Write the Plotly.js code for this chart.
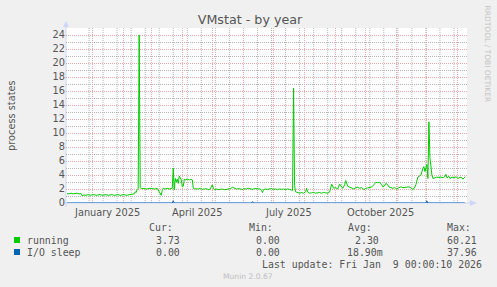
<!DOCTYPE html>
<html><head><meta charset="utf-8">
<script src="https://cdn.plot.ly/plotly-3.0.1.min.js"></script>
<style>html,body{margin:0;padding:0;background:#F0F0F0;}#chart{width:497px;height:287px;}</style>
</head><body><div id="chart"></div>
<script>
// ---- data ----
const dates = [
 '2024-12-07','2024-12-09','2024-12-11','2024-12-13','2024-12-15','2024-12-17','2024-12-19','2024-12-21','2024-12-22','2024-12-24','2024-12-26','2024-12-28','2024-12-30',
 '2025-01-01','2025-01-03','2025-01-05','2025-01-07','2025-01-09','2025-01-11','2025-01-13','2025-01-15','2025-01-17','2025-01-19','2025-01-21','2025-01-23','2025-01-25','2025-01-27','2025-01-29','2025-01-31',
 '2025-02-02','2025-02-04','2025-02-06','2025-02-08','2025-02-10','2025-02-12','2025-02-13','2025-02-14','2025-02-15','2025-02-16','2025-02-17','2025-02-18','2025-02-19','2025-02-21','2025-02-23','2025-02-25','2025-02-27',
 '2025-03-01','2025-03-03','2025-03-05','2025-03-07','2025-03-08','2025-03-09','2025-03-10','2025-03-11','2025-03-12','2025-03-13','2025-03-15','2025-03-17','2025-03-19','2025-03-21','2025-03-22','2025-03-23','2025-03-24','2025-03-25','2025-03-26','2025-03-27','2025-03-28','2025-03-29','2025-03-30','2025-03-31',
 '2025-04-01','2025-04-02','2025-04-03','2025-04-04','2025-04-06','2025-04-08','2025-04-10','2025-04-11','2025-04-12','2025-04-13','2025-04-15','2025-04-17','2025-04-19','2025-04-21','2025-04-23','2025-04-25','2025-04-27','2025-04-29','2025-04-30',
 '2025-05-01','2025-05-02','2025-05-03','2025-05-05','2025-05-07','2025-05-09','2025-05-11','2025-05-13','2025-05-15','2025-05-17','2025-05-19','2025-05-21','2025-05-23','2025-05-25','2025-05-27','2025-05-29','2025-05-31',
 '2025-06-02','2025-06-04','2025-06-06','2025-06-08','2025-06-10','2025-06-12','2025-06-14','2025-06-16','2025-06-18','2025-06-19','2025-06-20','2025-06-21','2025-06-23','2025-06-25','2025-06-27','2025-06-29',
 '2025-07-01','2025-07-03','2025-07-05','2025-07-07','2025-07-09','2025-07-11','2025-07-13','2025-07-15','2025-07-17','2025-07-19','2025-07-20','2025-07-21','2025-07-22','2025-07-23','2025-07-25','2025-07-27','2025-07-29','2025-07-31',
 '2025-08-02','2025-08-03','2025-08-04','2025-08-06','2025-08-08','2025-08-10','2025-08-12','2025-08-14','2025-08-16','2025-08-18','2025-08-20','2025-08-22','2025-08-24','2025-08-26','2025-08-27','2025-08-28','2025-08-30',
 '2025-09-01','2025-09-03','2025-09-05','2025-09-07','2025-09-08','2025-09-10','2025-09-11','2025-09-13','2025-09-15','2025-09-17','2025-09-19','2025-09-21','2025-09-23','2025-09-25','2025-09-27','2025-09-29',
 '2025-10-01','2025-10-03','2025-10-05','2025-10-07','2025-10-09','2025-10-11','2025-10-13','2025-10-15','2025-10-17','2025-10-18','2025-10-20','2025-10-21','2025-10-23','2025-10-24','2025-10-26','2025-10-28','2025-10-30',
 '2025-11-01','2025-11-03','2025-11-05','2025-11-07','2025-11-09','2025-11-11','2025-11-13','2025-11-15','2025-11-17','2025-11-19','2025-11-20','2025-11-22','2025-11-24','2025-11-25','2025-11-27','2025-11-28','2025-11-29','2025-11-30',
 '2025-12-01','2025-12-02','2025-12-03','2025-12-04','2025-12-05','2025-12-06','2025-12-07','2025-12-09','2025-12-11','2025-12-13','2025-12-15','2025-12-17','2025-12-19','2025-12-20','2025-12-21','2025-12-23','2025-12-24','2025-12-26','2025-12-28','2025-12-30',
 '2026-01-01','2026-01-03','2026-01-05','2026-01-06','2026-01-08'
];
const running = [
 1.35,1.3,1.4,1.3,1.35,1.4,1.3,1.35,1.05,1.15,1.1,1.2,1.1,
 1.15,1.2,1.1,1.15,1.2,1.1,1.15,1.2,1.1,1.15,1.2,1.1,1.15,1.2,1.1,1.15,
 1.2,1.1,1.15,1.2,1.15,1.3,1.6,1.5,1.9,2.1,24.0,2.2,2.1,2.05,2.1,2.0,2.1,
 2.05,2.1,2.0,2.1,1.8,1.6,1.2,1.1,1.8,2.1,2.0,2.1,2.0,2.1,2.1,5.0,1.85,3.5,3.0,3.4,2.8,3.85,3.6,3.3,
 2.3,2.4,3.4,3.3,3.4,3.3,3.35,3.3,2.1,2.0,2.05,2.0,2.1,1.95,2.0,2.05,1.9,2.0,2.3,
 2.6,2.1,1.9,2.0,1.9,1.95,2.0,1.9,1.95,2.0,2.05,2.25,2.1,2.0,2.05,2.0,1.95,
 2.05,2.0,2.1,2.0,1.95,2.05,2.0,1.95,2.0,1.8,1.5,1.9,2.0,1.95,2.0,2.05,
 1.95,2.0,1.9,2.0,1.95,2.0,1.9,2.0,1.95,1.9,1.8,16.4,2.5,1.6,1.5,1.4,1.5,1.4,
 1.6,2.1,1.6,1.4,1.45,1.5,1.4,1.45,1.5,1.4,1.5,1.45,1.4,1.6,2.2,2.7,2.1,
 2.2,2.0,2.7,2.3,2.1,2.6,3.2,2.4,2.3,2.2,2.0,2.2,2.25,2.1,2.2,1.9,
 2.1,2.15,2.2,2.3,2.6,2.95,2.9,2.95,2.6,2.3,2.5,2.8,2.6,2.3,2.2,2.1,2.2,
 1.95,2.2,2.3,2.2,2.25,2.2,2.3,2.2,1.9,2.3,2.6,3.7,3.9,4.0,4.9,5.2,4.5,5.0,
 5.5,3.5,11.6,6.5,4.7,4.0,3.5,3.6,3.7,3.65,3.7,3.6,3.8,4.1,3.6,3.8,3.5,3.7,3.6,3.75,
 3.5,3.7,3.6,3.4,3.73
];
const ioDates = ['2024-12-07','2025-03-22','2025-03-23','2025-03-24','2025-06-09','2025-06-10','2025-06-11','2025-11-30','2025-12-01','2025-12-02','2026-01-08'];
const ioSleep = [0,0,0.3,0,0,0.2,0,0,0.3,0,0];

const quarterDates = ['2025-01-01','2025-04-01','2025-07-01','2025-10-01'];
const quarterLabels = ['January 2025','April 2025','July 2025','October 2025'];

const seriesNames = ['running','I/O sleep'];
const seriesColors = ['#00CC00','#0066B3'];
const statHeaders = ['Cur:','Min:','Avg:','Max:'];
const runningStats = ['3.73','0.00','2.30','60.21'];
const ioStats = ['0.00','0.00','18.90m','37.96'];
const titleText = 'VMstat - by year';
const yTitle = 'process states';
const lastUpdate = 'Last update: Fri Jan\u00a0 9 00:00:10 2026';
const footer = 'Munin 2.0.67';
const sideText = 'RRDTOOL / TOBI OETIKER';

// ---- layout geometry ----
const L = 66, T = 28, W = 401, H = 175, FW = 497, FH = 287;
const px = x => (x - L) / W;
const py = y => (T + H - y) / H;
const xRange = ['2024-12-06', '2026-01-10'];

const traces = [
  {x: ioDates, y: ioSleep, type: 'scatter', mode: 'lines', line: {color: seriesColors[1], width: 1}, hoverinfo: 'skip'},
  {x: dates, y: running, type: 'scatter', mode: 'lines', line: {color: seriesColors[0], width: 1}, hoverinfo: 'skip'}
];

const mono = {family: 'DejaVu Sans Mono', size: 9.9, color: '#555555'};
const sans = {family: 'DejaVu Sans', size: 9.8, color: '#555555'};
const ann = [];
function addText(text, x, y, anchor, font, extra) {
  ann.push(Object.assign({text: text, xref: 'paper', yref: 'paper', x: px(x), y: py(y), xanchor: anchor, yanchor: 'middle',
    showarrow: false, font: font, borderpad: 0, borderwidth: 0}, extra || {}));
}
// x-axis month labels (centred on the month, as rrdtool does)
quarterDates.forEach((d, i) => ann.push({text: quarterLabels[i], xref: 'x', yref: 'paper', x: d, y: py(212.5), xanchor: 'center', yanchor: 'middle',
  xshift: 15, showarrow: false, font: sans, borderpad: 0, borderwidth: 0}));
// legend
const headerX = [149, 249, 348, 447];
statHeaders.forEach((h, i) => addText(h, headerX[i], 227.5, 'left', mono));
addText(seriesNames[0], 27, 240, 'left', mono);
addText(seriesNames[1], 27, 252, 'left', mono);
const runX = [156, 256, 355, 447];
const ioX = [156, 256, 347, 447];
runningStats.forEach((s, i) => addText(s, runX[i], 240, 'left', mono));
ioStats.forEach((s, i) => addText(s, ioX[i], 252, 'left', mono));
addText(lastUpdate, 262, 264, 'left', mono);
addText(footer, 248, 276, 'center', {family: 'DejaVu Sans', size: 7.6, color: '#BDBDBD'});
addText(sideText, 487, 53.5, 'center', {family: 'DejaVu Sans', size: 7.5, color: '#C4C4C4'}, {textangle: 90});
addText(yTitle, 11, 116, 'center', sans, {textangle: -90});

const majorGrid = '#EBA8A8';
const minorGrid = '#B4B4B4';
const axisCol = '#CFD6F8';
const shapes = [];
// minor vertical grid: every 14 days (rrdtool minor grid)
const DAY = 86400000;
const gridStart = Date.parse('2024-12-29'), gridEnd = Date.parse(xRange[1]);
for (let t = gridStart; t < gridEnd; t += 14 * DAY) {
  const d = new Date(t).toISOString().slice(0, 10);
  shapes.push({type: 'line', xref: 'x', yref: 'paper', x0: d, x1: d, y0: 0, y1: 1, line: {color: minorGrid, width: 1, dash: '1px,1px'}, layer: 'between'});
}
shapes.push(
  {type: 'line', xref: 'paper', yref: 'paper', x0: px(66), x1: px(66), y0: py(207), y1: py(26), line: {color: axisCol, width: 1}, layer: 'between'},
  {type: 'line', xref: 'paper', yref: 'paper', x0: px(62), x1: px(471), y0: py(203), y1: py(203), line: {color: axisCol, width: 1}, layer: 'between'},
  {type: 'path', xref: 'paper', yref: 'paper', path: `M${px(63)},${py(27)} L${px(69)},${py(27)} L${px(66)},${py(21)} Z`, fillcolor: axisCol, line: {width: 0}, layer: 'between'},
  {type: 'path', xref: 'paper', yref: 'paper', path: `M${px(470)},${py(200)} L${px(470)},${py(206)} L${px(477)},${py(203)} Z`, fillcolor: axisCol, line: {width: 0}, layer: 'between'},
  {type: 'rect', xref: 'paper', yref: 'paper', x0: px(14), x1: px(20), y0: py(243), y1: py(237), fillcolor: seriesColors[0], line: {width: 0}},
  {type: 'rect', xref: 'paper', yref: 'paper', x0: px(14), x1: px(20), y0: py(255), y1: py(249), fillcolor: seriesColors[1], line: {width: 0}}
);

const layout = {
  width: FW, height: FH,
  margin: {l: L, r: FW - L - W, t: T, b: FH - T - H, pad: 0},
  paper_bgcolor: '#F0F0F0', plot_bgcolor: '#FFFFFF',
  showlegend: false,
  font: sans,
  title: {text: titleText, font: {family: 'DejaVu Sans', size: 12.7, color: '#555555'}, xref: 'container', x: 250 / FW, xanchor: 'center', yref: 'container', y: 1 - 19.5 / FH, yanchor: 'middle'},
  xaxis: {
    type: 'date', range: xRange,
    tickmode: 'linear', tick0: '2025-01-01', dtick: 'M1',
    ticks: '', showticklabels: false,
    showgrid: true, gridcolor: majorGrid, griddash: '1px,1px', gridwidth: 1,
    showline: false, zeroline: false, fixedrange: true
  },
  yaxis: {
    range: [0, 25], tickmode: 'linear', tick0: 0, dtick: 2,
    ticks: '', showgrid: true, gridcolor: majorGrid, griddash: '1px,1px', gridwidth: 1,
    minor: {tickmode: 'linear', tick0: 0, dtick: 1, showgrid: true, gridcolor: minorGrid, griddash: '1px,1px', gridwidth: 1, ticks: ''},
    showline: false, zeroline: false, fixedrange: true,
    tickfont: sans
  },
  annotations: ann,
  shapes: shapes
};
Plotly.newPlot('chart', traces, layout, {staticPlot: true, displayModeBar: false});
</script></body></html>
